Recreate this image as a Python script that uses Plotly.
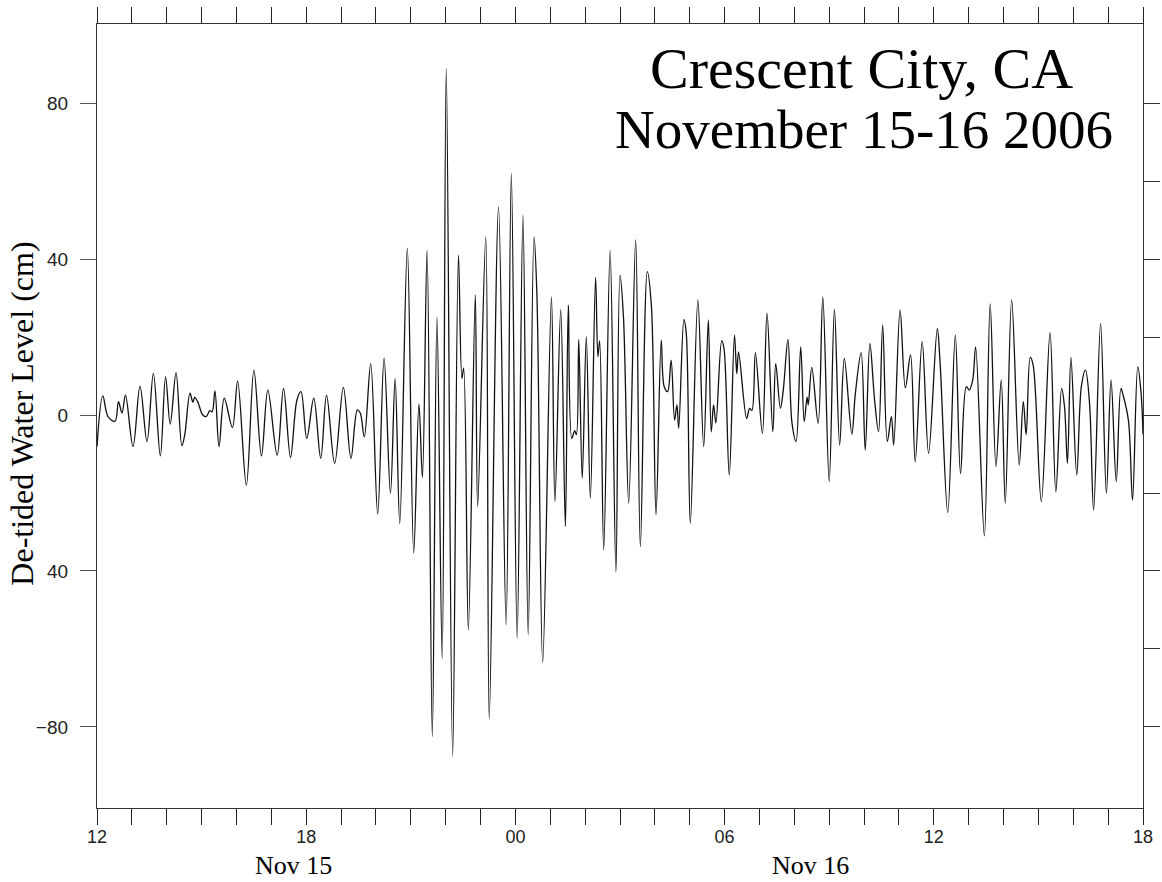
import pandas as pd
import plotly.graph_objects as go

# De-tided water level at Crescent City, CA (minutes after 2006-11-15 12:00, cm)
minutes = [
    0, 10, 19, 31, 37, 43, 49, 62, 74, 86, 97, 109, 118, 126, 136, 146, 151, 160,
    165, 168, 173, 182, 188, 194, 198, 203, 210, 219, 233, 242, 257, 270, 283, 294,
    310, 321, 333, 344, 351, 361, 373, 385, 395, 409, 424, 437, 448, 453, 460, 471,
    483, 494, 505, 513, 521, 534, 545, 554, 560, 568, 577, 585, 594, 601, 612, 622,
    628, 631, 639, 651, 655, 669, 675, 691, 704, 713, 723, 733, 742, 752, 757, 767,
    782, 788, 798, 806, 811, 817, 822, 825, 829, 835, 842, 849, 858, 862, 865, 872,
    883, 893, 900, 906, 915, 927, 935, 947, 954, 962, 971, 976, 982, 988, 994, 998,
    1001, 1010, 1014, 1021, 1034, 1044, 1052, 1057, 1061, 1065, 1075, 1079, 1088,
    1097, 1101, 1104, 1118, 1123, 1127, 1133, 1145, 1153, 1163, 1168, 1176, 1181,
    1189, 1196, 1203, 1211, 1217, 1222, 1224, 1230, 1241, 1249, 1260, 1269, 1278,
    1286, 1299, 1305, 1315, 1322, 1330, 1338, 1345, 1352, 1360, 1367, 1371, 1382,
    1391, 1400, 1408, 1420, 1431, 1446, 1451, 1464, 1477, 1486, 1496, 1501, 1507,
    1512, 1527, 1537, 1547, 1556, 1563, 1574, 1587, 1594, 1599, 1606, 1611, 1625,
    1640, 1650, 1660, 1665, 1670, 1676, 1686, 1694, 1701, 1708, 1715, 1727, 1737,
    1745, 1754, 1762, 1766, 1775, 1782, 1791, 1797, 1800,
]
level_cm = [
    -8.1, 4.9, -0.4, -1.6, 3.4, 0.5, 5.1, -8.1, 7.4, -6.8, 10.7, -10.5, 9.8, -2.3,
    10.9, -7.9, -5.1, 5.6, 3.3, 4.5, 3.5, 0.0, -0.4, 1.1, 0.8, 6.2, -8.1, 4.3, -3.2,
    8.7, -18.0, 11.5, -10.5, 6.4,
    -10.3, 6.8, -10.9, 3.8, 6.0, -6.0, 4.3, -11.1, 5.1, -12.4, 7.1, -11.1, 1.3, 0.5,
    -5.6, 13.2, -25.4, 14.6, -20.1, 9.3, -27.8, 42.8, -35.4, 2.8, -16.0, 42.2, -82.5,
    25.1, -62.5, 89.0, -87.5, 41.0,
    9.4, 12.0, -55.1, 30.8, -23.5, 45.7, -78.0, 53.4, -53.8, 62.0, -57.3, 51.3, -56.4,
    45.7, 31.0, -63.5, 30.3, -22.2, 27.0, -28.6, 28.2, -6.0, -4.0, -5.0, 19.4, -16.2,
    20.1, -21.4, 35.3, 15.0, 19.0, -34.6, 42.3, -40.2, 35.9, 25.0, -22.6, 44.9, -33.8,
    36.8, 28.0, -25.6, 19.2, 7.3, 6.0, 14.1, -1.3, 2.6, -3.4, 24.5, 21.0, -27.8, 29.5,
    -8.1, 24.4, -4.3, 2.6, -2.1, 19.1, 17.0, -15.4, 20.5, 10.6, 16.2, -0.9, 1.7, 1.2,
    16.0, -4.7, 26.1, -4.3, 13.2, 1.7, 6.4, 19.4, -2.1, -6.8, 17.5, -1.7, 4.6, 2.6,
    12.2, -2.1, 30.3, -17.1, 27.1, -7.7, 14.5, -4.9, 5.5, 16.0, -9.0, 18.4, 4.0, -4.3,
    23.1, -6.8, -0.4, -7.7, 26.9, 7.0, 15.4, -12.0, 18.8, -9.8, 22.2, 13.0, -25.0,
    20.5, -15.0, 7.3, 6.4, 9.0, 17.5, -31.0, 28.5, -13.2, 9.0, -22.6, 29.5, -12.8, 3.4,
    -5.0, 14.8, 12.8, -22.2, 21.1, -19.7, 6.8, 2.0, -12.4, 14.8, -15.4, 7.4, 11.5, 3.0,
    -24.4, 23.5, -20.1, 9.0, -17.1, 6.8, 5.0, -1.5, -21.8, 12.4, 5.0, -5.0,
]

start = pd.Timestamp("2006-11-15 12:00")
times = start + pd.to_timedelta(minutes, unit="min")

# Hourly ticks, labelled every six hours
hour_ticks = pd.date_range("2006-11-15 12:00", "2006-11-16 18:00", freq="h")
hour_labels = [t.strftime("%H") if t.hour % 6 == 0 else "" for t in hour_ticks]

y_tick_vals = [80, 40, 0, -40, -80]
y_tick_text = ["80", "40", "0", "40", "\u221280"]
y_right_ticks = [80, 60, 40, 20, 0, -20, -40, -60, -80]

date_labels = ["Nov 15", "Nov 16"]
title_lines = ["Crescent City, CA", "November 15-16 2006"]
y_title = "De-tided Water Level (cm)"

SERIF = "Liberation Serif, Times New Roman, serif"
SANS = "Liberation Sans, Arial, sans-serif"

fig = go.Figure()
fig.add_trace(go.Scatter(
    x=times, y=level_cm, mode="lines",
    line=dict(color="#111111", width=1.3, shape="spline", smoothing=1.0),
    hoverinfo="skip", showlegend=False,
))
# invisible trace carrying the right-hand axis
fig.add_trace(go.Scatter(x=[times[0]], y=[0], yaxis="y2", mode="markers",
                         marker=dict(opacity=0), showlegend=False, hoverinfo="skip"))

y_range = [-100.8, 100.3]

fig.update_layout(
    width=1162, height=882,
    margin=dict(l=97, r=19, t=24, b=74, autoexpand=False),
    paper_bgcolor="white", plot_bgcolor="white",
    xaxis=dict(
        type="date", automargin=False,
        range=[hour_ticks[0], hour_ticks[-1]],
        tickmode="array", tickvals=list(hour_ticks), ticktext=hour_labels,
        ticks="outside", ticklen=16, tickwidth=1.2, tickcolor="#222",
        showline=True, linecolor="#333", linewidth=1.3, mirror="ticks",
        showgrid=False, zeroline=False,
        tickfont=dict(family=SANS, size=18, color="#222"),
        ticklabelstandoff=-4,
    ),
    yaxis=dict(
        range=y_range, automargin=False,
        tickmode="array", tickvals=y_tick_vals, ticktext=y_tick_text,
        ticks="outside", ticklen=16, tickwidth=1.2, tickcolor="#555",
        showline=True, linecolor="#333", linewidth=1.3, mirror=True,
        showgrid=False, zeroline=False,
        tickfont=dict(family=SANS, size=19, color="#222"),
        ticklabelstandoff=8,
    ),
    yaxis2=dict(
        range=y_range, overlaying="y", side="right", automargin=False,
        tickmode="array", tickvals=y_right_ticks, showticklabels=False,
        ticks="outside", ticklen=16, tickwidth=1.2, tickcolor="#333",
        showline=False, showgrid=False, zeroline=False,
    ),
)

annotations = [
    dict(text=title_lines[0], x=0.731, y=0.943, xref="paper", yref="paper",
         xanchor="center", yanchor="middle", showarrow=False,
         font=dict(family=SERIF, size=58, color="#000")),
    dict(text=title_lines[1], x=0.733, y=0.865, xref="paper", yref="paper",
         xanchor="center", yanchor="middle", showarrow=False,
         font=dict(family=SERIF, size=55, color="#000")),
    dict(text=y_title, x=-0.0717, y=0.503, xref="paper", yref="paper",
         xanchor="center", yanchor="middle", textangle=-90, showarrow=False,
         font=dict(family=SERIF, size=32, color="#000")),
    dict(text=date_labels[0], x=0.1874, y=-0.0735, xref="paper", yref="paper",
         xanchor="center", yanchor="middle", showarrow=False,
         font=dict(family=SERIF, size=26, color="#000")),
    dict(text=date_labels[1], x=0.682, y=-0.0735, xref="paper", yref="paper",
         xanchor="center", yanchor="middle", showarrow=False,
         font=dict(family=SERIF, size=26, color="#000")),
]
fig.update_layout(annotations=annotations)

fig.write_html("out.html")
